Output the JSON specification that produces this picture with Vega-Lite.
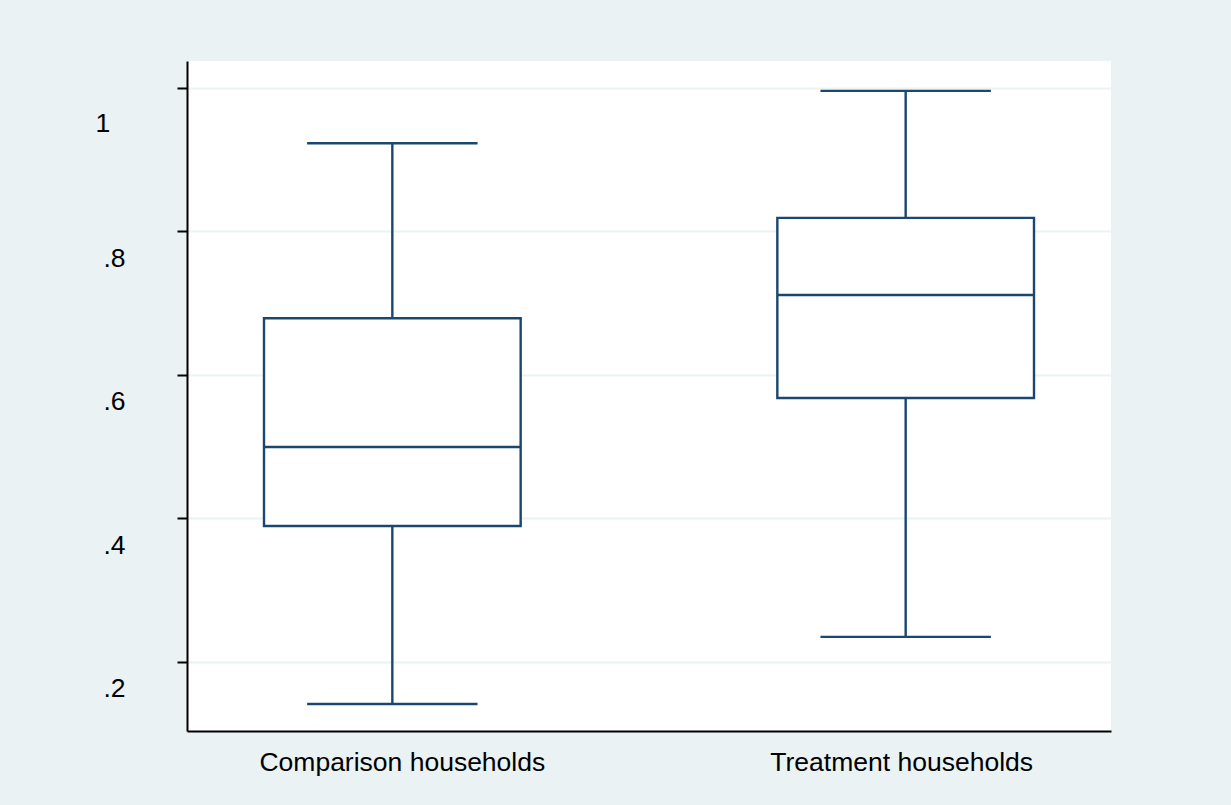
{
  "$schema": "https://vega.github.io/schema/vega-lite/v6.json",
  "width": 924,
  "height": 670,
  "autosize": {"type": "none"},
  "padding": {"left": 187, "top": 61, "right": 120, "bottom": 74},
  "background": "#eaf2f3",
  "config": {
    "view": {"fill": "white", "stroke": null},
    "font": "Liberation Sans"
  },
  "data": {
    "values": [
      {"group": "Comparison households", "lo": 0.1415, "q1": 0.3896, "med": 0.4997, "q3": 0.679, "hi": 0.923},
      {"group": "Treatment households", "lo": 0.235, "q1": 0.568, "med": 0.7115, "q3": 0.819, "hi": 0.996}
    ]
  },
  "encoding": {
    "x": {
      "field": "group",
      "type": "nominal",
      "sort": null,
      "scale": {"paddingInner": 0.5, "paddingOuter": 0.15},
      "axis": {
        "title": null,
        "labelAngle": 0,
        "labelFontSize": 26.5,
        "labelColor": "black",
        "labelPadding": 18,
        "labelLimit": 0,
        "labelOffset": {"condition": {"test": "datum.value == 'Comparison households'", "value": 10}, "value": -4},
        "ticks": false,
        "tickSize": 0,
        "domainColor": "black",
        "domainWidth": 2,
        "grid": false
      }
    }
  },
  "layer": [
    {
      "mark": {"type": "rule", "color": "#1a476f", "strokeWidth": 2.4},
      "encoding": {
        "y": {
          "field": "lo",
          "type": "quantitative",
          "scale": {"domain": [0.1038, 1.0376], "nice": false, "zero": false},
          "axis": {
            "title": null,
            "values": [0.2, 0.4, 0.6, 0.8, 1],
            "labelExpr": "datum.value == 1 ? '1' : '.' + round(datum.value * 10)",
            "labelFontSize": 26.5,
            "labelColor": "black",
            "labelAlign": "left",
            "labelPadding": {"condition": {"test": "datum.value == 1", "value": 82}, "value": 74},
            "labelOffset": {"condition": {"test": "datum.value == 1", "value": 36}, "value": 27},
            "tickSize": 10,
            "tickColor": "black",
            "tickWidth": 2,
            "domainColor": "black",
            "domainWidth": 2,
            "grid": true,
            "gridColor": "#eaf2f3",
            "gridWidth": 2
          }
        },
        "y2": {"field": "hi"}
      }
    },
    {
      "mark": {"type": "bar", "fill": "white", "stroke": "#1a476f", "strokeWidth": 2.4},
      "encoding": {
        "y": {"field": "q1", "type": "quantitative"},
        "y2": {"field": "q3"}
      }
    },
    {
      "mark": {"type": "bar", "fill": null, "stroke": "#1a476f", "strokeWidth": 2.4},
      "encoding": {
        "y": {"field": "med", "type": "quantitative"},
        "y2": {"field": "med"}
      }
    },
    {
      "mark": {"type": "bar", "fill": null, "stroke": "#1a476f", "strokeWidth": 2.4, "width": {"band": 0.664}},
      "encoding": {
        "y": {"field": "hi", "type": "quantitative"},
        "y2": {"field": "hi"}
      }
    },
    {
      "mark": {"type": "bar", "fill": null, "stroke": "#1a476f", "strokeWidth": 2.4, "width": {"band": 0.664}},
      "encoding": {
        "y": {"field": "lo", "type": "quantitative"},
        "y2": {"field": "lo"}
      }
    }
  ]
}
